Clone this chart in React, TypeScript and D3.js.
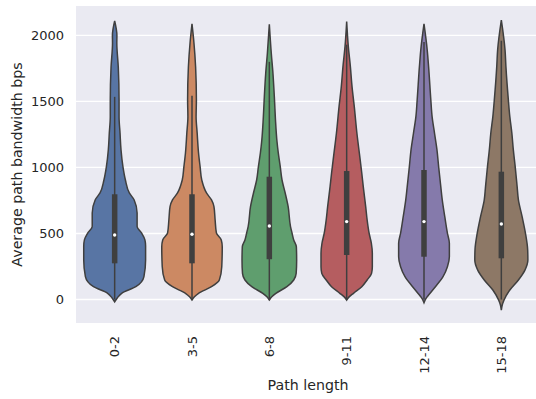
import React from "react";
import * as d3 from "d3";

const categories = ["0-2", "3-5", "6-8", "9-11", "12-14", "15-18"];
const colors = ["#5875A4", "#CC8963", "#5F9E6E", "#B55D60", "#857AAB", "#8D7866"];
const yTicks = [0, 500, 1000, 1500, 2000];

// KDE profiles: [value, relative density]
const kde02: [number, number][] = [
  [-17, 0], [10, 2.5], [49, 7.5], [97, 21.7], [173, 30], [299, 31.7], [405, 31.7], [451, 31],
  [504, 27.5], [552, 23], [655, 23], [754, 20], [807, 15], [905, 11], [1004, 8.5], [1133, 6.5],
  [1261, 5.5], [1383, 4.5], [1511, 4.5], [1761, 3.7], [1943, 2.2], [2000, 2.3], [2110, 0],
];
const kde35: [number, number][] = [
  [-4, 0], [20, 2.5], [47, 6.7], [97, 20], [148, 28], [248, 30.5], [400, 31], [451, 30],
  [504, 25], [602, 23.7], [703, 22.5], [754, 20], [805, 15], [905, 10], [1006, 8.3], [1110, 6.7],
  [1261, 5.3], [1385, 4.2], [1511, 4.5], [1761, 3.7], [1943, 2], [2087, 0],
];
const kde68: [number, number][] = [
  [-4, 0], [20, 2.5], [47, 6.7], [97, 18], [148, 25], [198, 27.5], [299, 28], [400, 27.7],
  [451, 25], [502, 23.3], [552, 21.7], [703, 19.3], [805, 16.3], [905, 13], [1006, 11.2],
  [1108, 9.2], [1208, 7.7], [1360, 6.3], [1511, 5.3], [1714, 3.7], [1865, 2], [2085, 0],
];
const kde911: [number, number][] = [
  [-4, 0], [20, 2.5], [47, 7], [97, 15.5], [148, 21], [198, 25.5], [248, 26.3], [350, 26.3],
  [426, 25.3], [502, 23], [602, 21], [703, 19.5], [855, 17], [956, 15.5], [1108, 13],
  [1259, 10.5], [1461, 7.8], [1612, 5.5], [1764, 3.8], [1915, 1.7], [2105, 0],
];
const kde1214: [number, number][] = [
  [-24, 0], [5, 1.8], [34, 4.7], [97, 11.7], [173, 19.5], [248, 24], [324, 26], [426, 26],
  [502, 24], [627, 21.3], [754, 18.7], [855, 17.2], [1006, 15], [1133, 13.3], [1259, 10.8],
  [1385, 8.3], [1511, 7], [1764, 4.7], [1890, 3.3], [2087, 0],
];
const kde1518: [number, number][] = [
  [-80, 0], [-40, 1], [-4, 2.8], [72, 8.7], [148, 17.5], [223, 24.2], [299, 27.2], [375, 27],
  [502, 24.7], [627, 21.3], [754, 17.5], [855, 16.2], [1006, 14.2], [1133, 12.3], [1259, 10.8],
  [1385, 8.7], [1511, 7.2], [1764, 4.7], [1890, 3.8], [2117, 0],
];
const kdes = [kde02, kde35, kde68, kde911, kde1214, kde1518];

// box stats
const q1 = [274, 274, 305, 337, 324, 312];
const medians = [489, 494, 557, 590, 590, 572];
const q3 = [797, 797, 930, 973, 981, 968];
const whiskLow = [0, 0, 0, 0, 0, 0];
const whiskHigh = [1535, 1544, 1800, 1930, 1950, 1960];

export default function App() {
  const W = 536, H = 399;
  const left = 76, right = 540, top = 6, bottom = 323;
  const x = d3.scaleBand<string>().domain(categories).range([left, right]).padding(0);
  const y = d3.scaleLinear().domain([-178, 2223]).range([bottom, top]);
  const maxD = d3.max(kdes.flat(), (d) => d[1]) as number;
  const wScale = d3.scaleLinear().domain([0, maxD]).range([0, x.step() * 0.4]);
  const textColor = "#262626";
  const gray = "#3F3F3F";
  const font = "DejaVu Sans, sans-serif";

  return (
    <svg width={W} height={H} style={{ position: "absolute", left: 0, top: 0, display: "block" }}>
      <rect x={0} y={0} width={W} height={H} fill="#ffffff" />
      <rect x={left} y={top} width={right - left} height={bottom - top} fill="#EAEAF2" />
      {yTicks.map((t) => (
        <line key={t} x1={left} x2={right} y1={y(t)} y2={y(t)} stroke="#ffffff" strokeWidth={1.3} />
      ))}
      {categories.map((c, i) => {
        const cx = (x(c) as number) + x.bandwidth() / 2;
        const area = d3
          .area<[number, number]>()
          .y((d) => y(d[0]))
          .x0((d) => cx - wScale(d[1]))
          .x1((d) => cx + wScale(d[1]))
          .curve(d3.curveMonotoneY);
        return (
          <g key={c}>
            <path d={area(kdes[i]) as string} fill={colors[i]} stroke={gray} strokeWidth={1.5} />
            <line x1={cx} x2={cx} y1={y(whiskLow[i])} y2={y(whiskHigh[i])} stroke={gray} strokeWidth={1.5} />
            <line x1={cx} x2={cx} y1={y(q1[i])} y2={y(q3[i])} stroke={gray} strokeWidth={5.5} />
            <circle cx={cx} cy={y(medians[i])} r={1.7} fill="#ffffff" />
            <text
              transform={`translate(${cx},336) rotate(-90)`}
              textAnchor="end"
              dominantBaseline="central"
              fontFamily={font}
              fontSize={13}
              fill={textColor}
            >
              {c}
            </text>
          </g>
        );
      })}
      {yTicks.map((t) => (
        <text
          key={t}
          x={64}
          y={y(t)}
          textAnchor="end"
          dominantBaseline="central"
          fontFamily={font}
          fontSize={13}
          fill={textColor}
        >
          {t}
        </text>
      ))}
      <text x={(left + right) / 2} y={390} textAnchor="middle" fontFamily={font} fontSize={14.2} fill={textColor}>
        Path length
      </text>
      <text
        transform={`translate(21.5,${(top + bottom) / 2}) rotate(-90)`}
        textAnchor="middle"
        fontFamily={font}
        fontSize={14.2}
        fill={textColor}
      >
        Average path bandwidth bps
      </text>
    </svg>
  );
}
